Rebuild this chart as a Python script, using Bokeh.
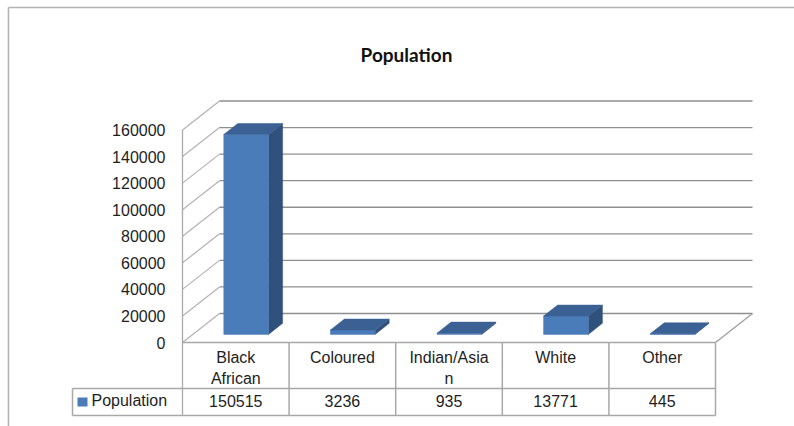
from bokeh.plotting import figure
from bokeh.models import Range1d
from bokeh.core.properties import value
from bokeh.embed import file_html
from bokeh.resources import INLINE

# ---------------- data ----------------
title_text = "Population"
categories = ["Black African", "Coloured", "Indian/Asian", "White", "Other"]
header_labels = ["Black\nAfrican", "Coloured", "Indian/Asia\nn", "White", "Other"]
series_name = "Population"
population = [150515, 3236, 935, 13771, 445]
y_ticks = [0, 20000, 40000, 60000, 80000, 100000, 120000, 140000, 160000]
y_tick_labels = [str(t) for t in y_ticks]

# ---------------- layout constants ----------------
W, H = 794, 426
ORIGIN_X, ORIGIN_Y = 182, 342          # frame px of front-left floor corner (from top-left)
PX_CAT = 106.6                          # px per category column
PX_PER_VAL = 212.5 / y_ticks[-1]        # px per value unit
DEPTH_PX = (37, 29)                     # oblique depth of floor
BAR_W = 0.42                            # bar width (fraction of column)
BAR_D0, BAR_D1 = 0.28, 0.66             # bar depth span (fraction of floor depth)
BORDER_X, BORDER_Y = 8, 7               # outer chart frame (top-left)

def px_x(n):
    return n / PX_CAT

def px_y(n):
    return n / PX_PER_VAL

def fx(sx):          # frame pixel x -> data x
    return px_x(sx - ORIGIN_X)

def fy(sy):          # frame pixel y -> data y
    return px_y(ORIGIN_Y - sy)

N = len(categories)
DX = px_x(DEPTH_PX[0])
DY = px_y(DEPTH_PX[1])

FONT = value("Liberation Sans")
TXT = "#1e1e1e"

p = figure(width=W, height=H,
           x_range=Range1d(fx(0), fx(W)),
           y_range=Range1d(fy(H), fy(0)),
           x_axis_type=None, y_axis_type=None,
           output_backend="svg", toolbar_location=None, min_border=0)
p.grid.visible = False
p.outline_line_color = None
p.background_fill_color = "white"
p.border_fill_color = "white"

x0, x1 = p.x_range.start, p.x_range.end
y0, y1 = p.y_range.start, p.y_range.end

# outer chart border (top & left visible)
p.segment(x0=[fx(BORDER_X), fx(BORDER_X)], y0=[fy(BORDER_Y), fy(BORDER_Y)],
          x1=[x1, fx(BORDER_X)], y1=[fy(BORDER_Y), y0],
          line_color="#b4b4b4", line_width=1.6)

# side wall diagonals
p.segment(x0=[0] * len(y_ticks), y0=y_ticks,
          x1=[DX] * len(y_ticks), y1=[t + DY for t in y_ticks],
          line_color="#b2b2b2", line_width=1.2)
# back wall gridlines
p.segment(x0=[DX] * len(y_ticks), y0=[t + DY for t in y_ticks],
          x1=[N + DX] * len(y_ticks), y1=[t + DY for t in y_ticks],
          line_color="#8f8f8f", line_width=1.3)
# floor right edge
p.segment(x0=[N], y0=[0], x1=[N + DX], y1=[DY], line_color="#a0a0a0", line_width=1.4)

# front-left vertical axis line (through table)
TABLE_H1 = px_y(46)
TABLE_H2 = px_y(73)
p.segment(x0=[0], y0=[y_ticks[-1]], x1=[0], y1=[-TABLE_H2], line_color="#aaaaaa", line_width=1.3)

# ---------------- bars ----------------
fL, fR, fB, fT = [], [], [], []
side_xs, side_ys, top_xs, top_ys = [], [], [], []
for i, v in enumerate(population):
    L = i + 0.5 - BAR_W / 2
    R = L + BAR_W
    xl, xr = L + BAR_D0 * DX, R + BAR_D0 * DX
    xl2, xr2 = L + BAR_D1 * DX, R + BAR_D1 * DX
    yb, yt = BAR_D0 * DY, v + BAR_D0 * DY
    yb2, yt2 = BAR_D1 * DY, v + BAR_D1 * DY
    fL.append(xl); fR.append(xr); fB.append(yb); fT.append(yt)
    side_xs.append([xr, xr, xr2, xr2]); side_ys.append([yb, yt, yt2, yb2])
    top_xs.append([xl, xr, xr2, xl2]); top_ys.append([yt, yt, yt2, yt2])

p.patches(xs=side_xs, ys=side_ys, fill_color="#30517b", line_color="#30517b", line_width=0.5)
p.quad(left=fL, right=fR, bottom=fB, top=fT, fill_color="#4a7cba", line_color="#4a7cba", line_width=0.5)
p.patches(xs=top_xs, ys=top_ys, fill_color="#3b6093", line_color="#3b6093", line_width=0.5)

# ---------------- y tick labels ----------------
p.text(x=[-px_x(17)] * len(y_ticks), y=y_ticks, text=y_tick_labels,
       text_align="right", text_baseline="middle",
       text_font=FONT, text_font_size=value("16px"), text_color=TXT)

# ---------------- title ----------------
p.text(x=[fx(406)], y=[fy(54)], text=[title_text],
       text_align="center", text_baseline="middle",
       text_font=value("Lato"), text_font_style="bold",
       text_font_size=value("19px"), text_color="#111111")

# ---------------- data table ----------------
TBL_LEFT = -px_x(110)
border = "#a8a8a8"
# vertical column borders
p.segment(x0=list(range(1, N + 1)), y0=[0] * N, x1=list(range(1, N + 1)), y1=[-TABLE_H2] * N,
          line_color=border, line_width=1.5)
# horizontal borders
p.segment(x0=[0, TBL_LEFT, TBL_LEFT], y0=[0, -TABLE_H1, -TABLE_H2],
          x1=[N, N, N], y1=[0, -TABLE_H1, -TABLE_H2],
          line_color=border, line_width=1.5)
p.segment(x0=[TBL_LEFT], y0=[-TABLE_H1], x1=[TBL_LEFT], y1=[-TABLE_H2],
          line_color=border, line_width=1.5)

# header labels (multi-line split)
hx, hy, ht = [], [], []
for i, lab in enumerate(header_labels):
    for k, line in enumerate(lab.split("\n")):
        hx.append(i + 0.5)
        hy.append(-px_y(15 + 20.5 * k))
        ht.append(line)
p.text(x=hx, y=hy, text=ht, text_align="center", text_baseline="middle",
       text_font=FONT, text_font_size=value("16px"), text_color=TXT)

# data values
p.text(x=[i + 0.5 for i in range(N)], y=[-px_y(58)] * N,
       text=[str(v) for v in population], text_align="center", text_baseline="middle",
       text_font=FONT, text_font_size=value("16px"), text_color=TXT)

# legend key + series name
p.quad(left=[-px_x(105)], right=[-px_x(95)], bottom=[-px_y(64)], top=[-px_y(55)],
       fill_color="#4a7cba", line_color=None)
p.text(x=[-px_x(91)], y=[-px_y(58)], text=[series_name],
       text_align="left", text_baseline="middle",
       text_font=FONT, text_font_size=value("16px"), text_color=TXT)

open("out.html", "w").write(file_html(p, INLINE))
